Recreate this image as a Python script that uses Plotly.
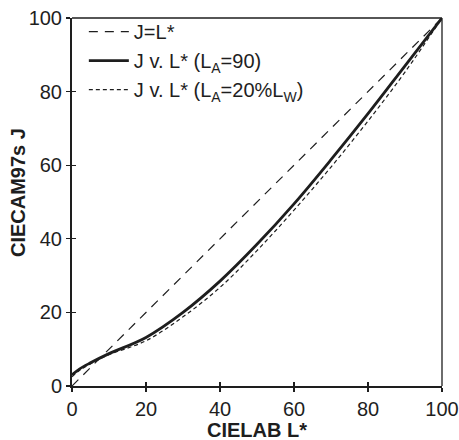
import plotly.graph_objects as go

L_ref = [0, 100]
J_ref = [0, 100]

L_90 = [0, 2, 5, 10, 20, 30, 40, 50, 60, 70, 80, 90, 100]
J_90 = [3.0, 4.6, 6.3, 8.8, 13.2, 20.0, 28.5, 38.5, 49.5, 61.5, 74.0, 87.0, 100.0]

L_20 = [0, 2, 5, 10, 20, 30, 40, 50, 60, 70, 80, 90, 100]
J_20 = [2.5, 4.2, 6.0, 8.5, 12.3, 18.8, 26.8, 36.8, 47.8, 59.5, 72.0, 85.3, 100.0]

x_ticks = [0, 20, 40, 60, 80, 100]
y_ticks = [0, 20, 40, 60, 80, 100]

INK = "#1e1e1e"
FONT = "Liberation Sans, Arial, sans-serif"

fig = go.Figure()
fig.add_trace(go.Scatter(x=L_ref, y=J_ref, mode="lines", name="J=L*",
                         line=dict(color=INK, width=1.2, dash="9px,7px")))
fig.add_trace(go.Scatter(x=L_90, y=J_90, mode="lines", name="J v. L* (L<sub>A</sub>=90)",
                         line=dict(color=INK, width=2.8, shape="spline")))
fig.add_trace(go.Scatter(x=L_20, y=J_20, mode="lines", name="J v. L* (L<sub>A</sub>=20%L<sub>W</sub>)",
                         line=dict(color=INK, width=1.2, dash="4px,3px", shape="spline")))
# empty trace on overlay axes so inner ticks are drawn
fig.add_trace(go.Scatter(x=[], y=[], xaxis="x2", yaxis="y2", showlegend=False))

axis_common = dict(range=[0, 100], showgrid=False, zeroline=False, automargin=False,
                   linecolor=INK, linewidth=2, tickcolor=INK, ticklen=4, tickwidth=1.2,
                   tickfont=dict(size=20), ticklabeloverflow="allow")

fig.update_layout(
    width=459, height=440,
    margin=dict(l=72, r=17, t=16, b=54),
    paper_bgcolor="white", plot_bgcolor="white",
    font=dict(family=FONT, size=20, color=INK),
    xaxis=dict(**axis_common, tickvals=x_ticks, ticks="outside", showline=True),
    yaxis=dict(**axis_common, tickvals=y_ticks, ticks="outside", showline=True),
    xaxis2=dict(range=[0, 100], tickvals=x_ticks, overlaying="x", anchor="y", side="bottom",
                ticks="inside", ticklen=4, tickwidth=1.2, tickcolor=INK, automargin=False,
                showticklabels=False, showgrid=False, zeroline=False, showline=False),
    yaxis2=dict(range=[0, 100], tickvals=y_ticks, overlaying="y", anchor="x", side="left",
                ticks="inside", ticklen=4, tickwidth=1.2, tickcolor=INK, automargin=False,
                showticklabels=False, showgrid=False, zeroline=False, showline=False),
    legend=dict(x=0.032, y=1.016, xanchor="left", yanchor="top", bgcolor="rgba(0,0,0,0)",
                font=dict(size=20), tracegroupgap=0, itemwidth=40),
    annotations=[
        dict(text="<b>CIELAB L*</b>", xref="paper", yref="paper", x=0.5, y=-0.119,
             xanchor="center", yanchor="middle", showarrow=False, font=dict(size=20)),
        dict(text="<b>CIECAM97s J</b>", xref="paper", yref="paper", x=-0.146, y=0.527,
             xanchor="center", yanchor="middle", textangle=-90, showarrow=False,
             font=dict(size=20)),
    ],
    shapes=[
        dict(type="line", xref="paper", yref="paper", x0=0, x1=1, y0=1, y1=1,
             line=dict(color=INK, width=1.3)),
        dict(type="line", xref="paper", yref="paper", x0=1, x1=1, y0=0, y1=1,
             line=dict(color=INK, width=1.3)),
    ],
)

fig.write_html(
    "out.html",
    config={"displayModeBar": False, "staticPlot": True},
    post_script="document.body.style.margin='0';document.body.style.overflow='hidden';",
)
